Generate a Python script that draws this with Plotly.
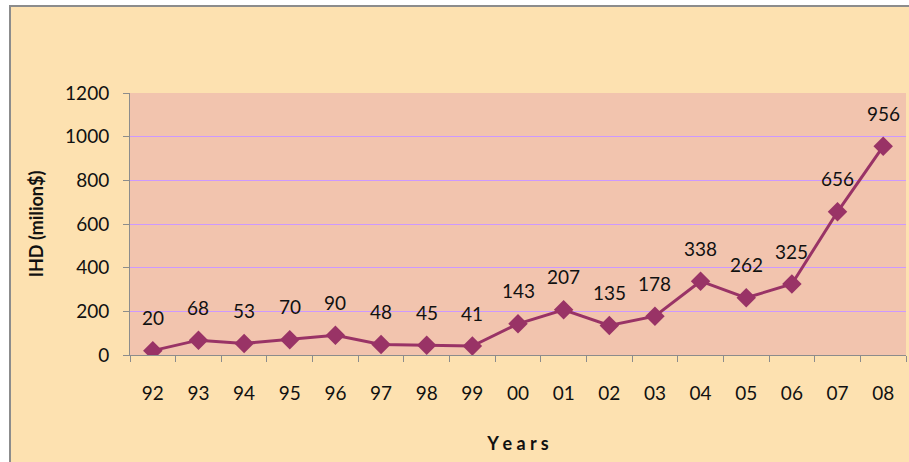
import plotly.graph_objects as go

years = ["92", "93", "94", "95", "96", "97", "98", "99", "00", "01", "02", "03", "04", "05", "06", "07", "08"]
ihd = [20, 68, 53, 70, 90, 48, 45, 41, 143, 207, 135, 178, 338, 262, 325, 656, 956]
y_ticks = [0, 200, 400, 600, 800, 1000, 1200]

W, H = 909, 462
ml, mr, mt, mb = 130, 3, 93, 107
pw, ph = W - ml - mr, H - mt - mb

FONT = "Lato, 'Open Sans', sans-serif"
LINE = "#993366"
TXT = "#111111"

fig = go.Figure()
fig.add_trace(go.Scatter(
    x=years, y=ihd, mode="lines+markers",
    line=dict(color=LINE, width=3),
    marker=dict(symbol="diamond", size=15, color=LINE),
    hoverinfo="x+y", showlegend=False,
))

for i, v in enumerate(ihd):
    fig.add_annotation(x=i, y=v, text=str(v), showarrow=False,
                       yshift=33, font=dict(family=FONT, size=19, color=TXT))

# outer chart area with grey border
fig.add_shape(type="rect", xref="paper", yref="paper",
              x0=(10 - ml) / pw, x1=(W + 20 - ml) / pw,
              y0=-(H + 20 - mt - ph) / ph, y1=(H - mb - 6) / ph,
              fillcolor="#FDE1B0", line=dict(color="#8C8C8C", width=2), layer="below")
# plot area fill
fig.add_shape(type="rect", xref="paper", yref="paper", x0=0, x1=1, y0=0, y1=1,
              fillcolor="#F2C4AE", line=dict(width=0), layer="below")

fig.update_layout(
    width=W, height=H,
    margin=dict(l=ml, r=mr, t=mt, b=mb),
    paper_bgcolor="white", plot_bgcolor="rgba(0,0,0,0)",
    font=dict(family=FONT, size=19, color=TXT),
    xaxis=dict(
        type="category", tickson="boundaries", ticks="outside", ticklen=6,
        tickcolor="#8C8C8C", showline=True, linecolor="#8C8C8C", linewidth=1,
        showgrid=False, ticklabelstandoff=21,
        tickfont=dict(family=FONT, size=19, color=TXT),
        title=dict(text="<b>Y e a r s</b>", font=dict(family=FONT, size=18, color=TXT), standoff=34),
        range=[-0.5, len(years) - 0.5], fixedrange=True,
    ),
    yaxis=dict(
        range=[0, 1200], tickvals=y_ticks, ticks="outside", ticklen=6,
        tickcolor="#8C8C8C", showline=True, linecolor="#8C8C8C", linewidth=1,
        showgrid=True, gridcolor="#CC99FF", gridwidth=1, zeroline=False,
        ticklabelstandoff=10,
        tickfont=dict(family=FONT, size=19, color=TXT),
        title=dict(text="<b>IHD (milion$)</b>", font=dict(family=FONT, size=18, color=TXT), standoff=16),
        fixedrange=True,
    ),
)

fig.write_html("out.html")
